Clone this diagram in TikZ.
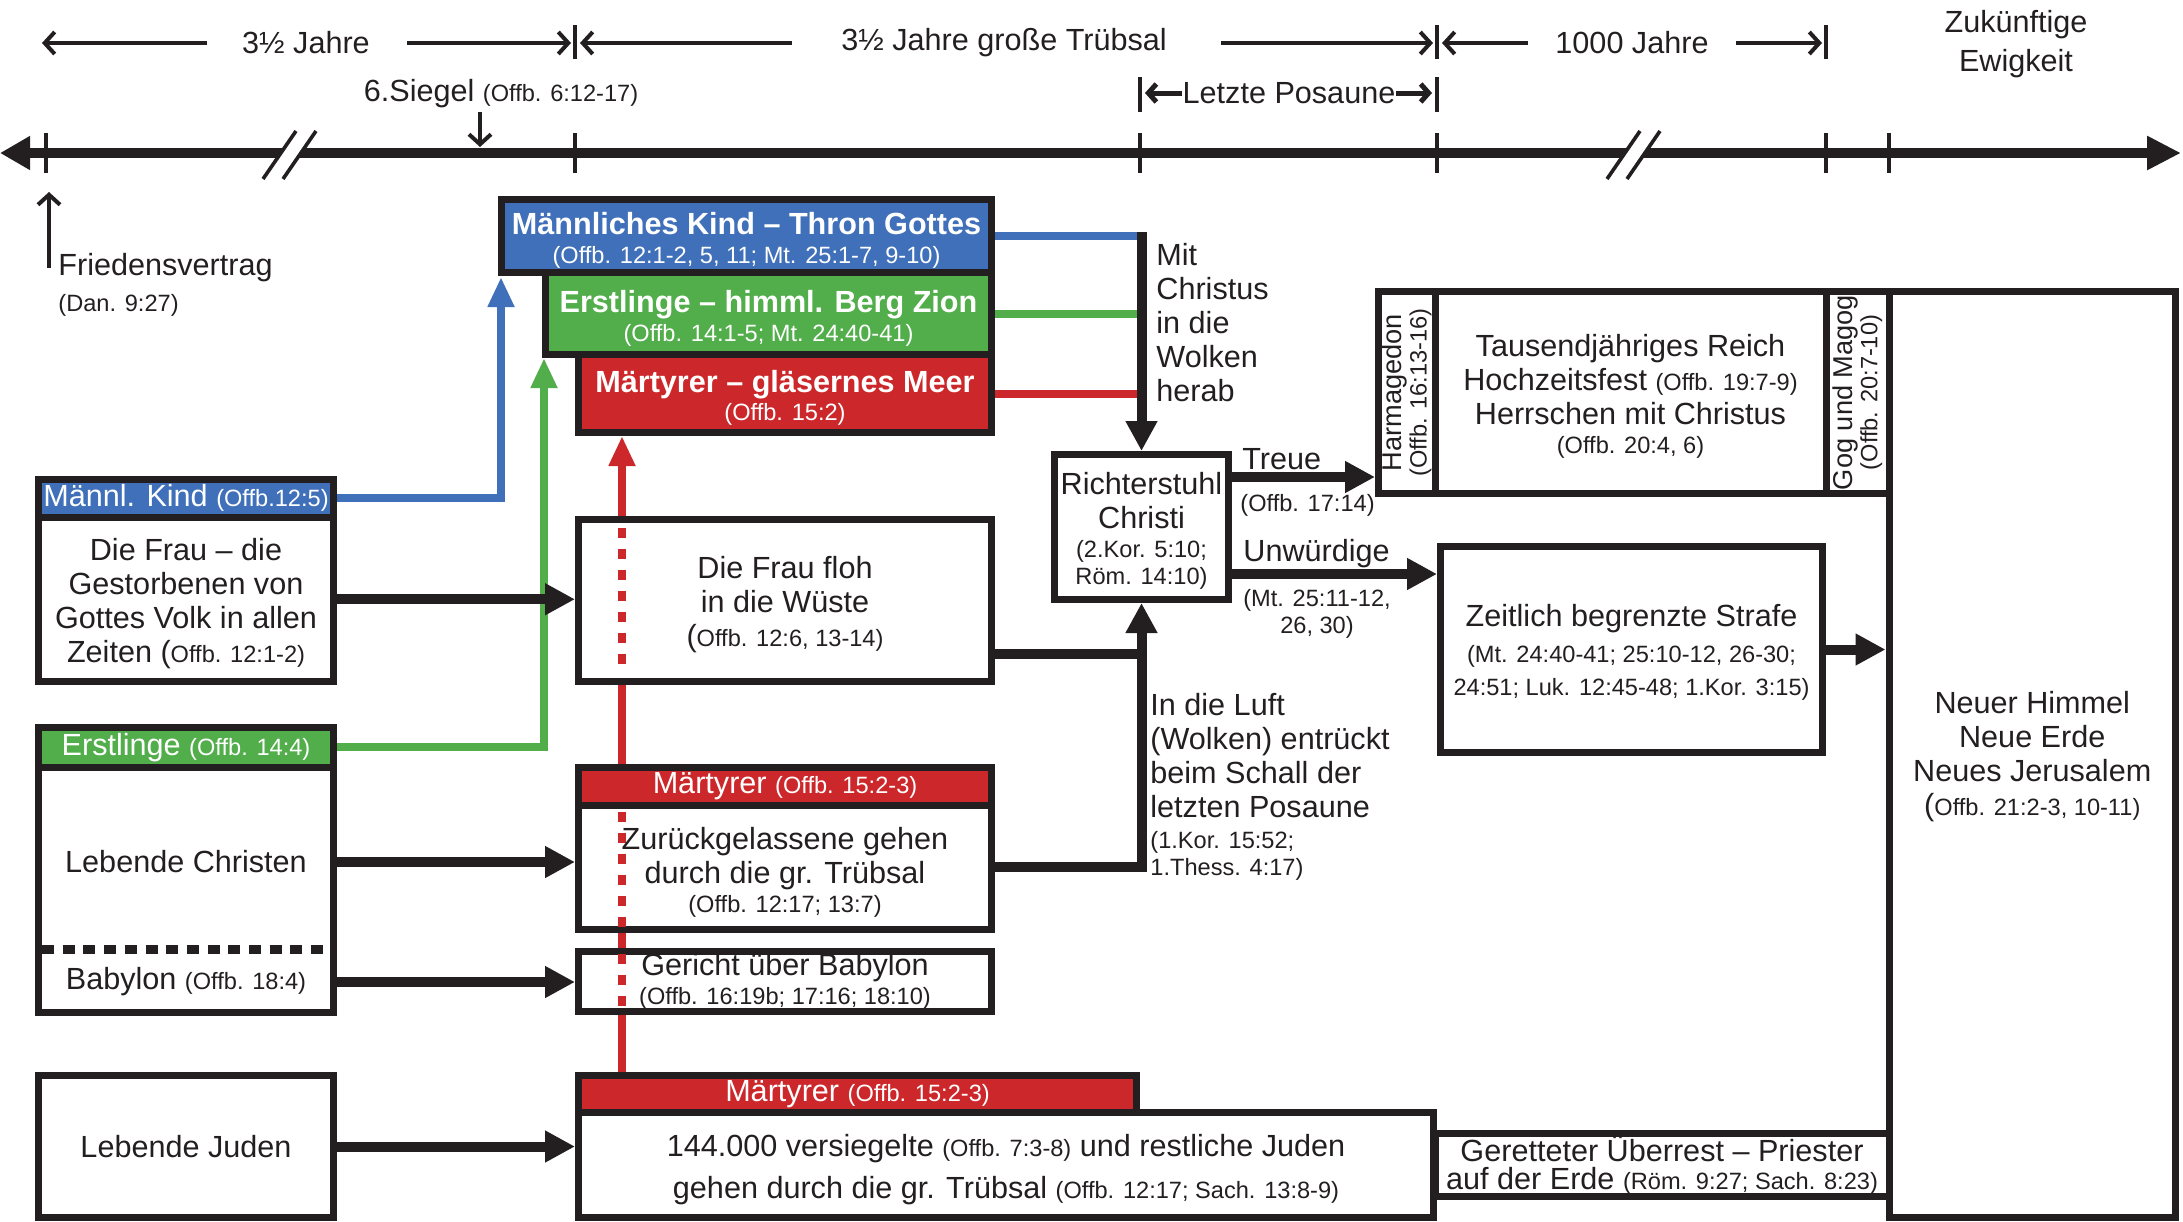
\documentclass[tikz,border=0pt]{standalone}
\usepackage{fontspec}
\setmainfont{Liberation Sans}
\usetikzlibrary{arrows.meta,fit}
\pgfdeclarelayer{bg}
\pgfsetlayers{bg,main}

\definecolor{kblack}{RGB}{35,31,32}
\definecolor{kblue}{RGB}{63,112,185}
\definecolor{kgreen}{RGB}{82,173,75}
\definecolor{kred}{RGB}{204,39,42}

\newcommand{\mtxt}{\fontsize{15.3pt}{17pt}\selectfont}
\newcommand{\rtxt}{\fontsize{11.8pt}{13pt}\selectfont}

\begin{document}
\begin{tikzpicture}[x=0.5pt,y=-0.5pt,
    box/.style={draw=kblack,line width=3.5pt,fill=white,inner sep=0pt},
    lbl/.style={inner sep=0pt,font=\mtxt,text=kblack,align=center},
    wlbl/.style={lbl,text=white},
    blbl/.style={wlbl,font=\mtxt\bfseries},
    conn/.style={kblack,line width=5pt,-{Triangle[length=15pt,width=15pt]}},
    plainconn/.style={kblack,line width=5pt},
    wire/.style={line width=4pt,-{Triangle[length=15pt,width=12.5pt]}},
    wireline/.style={line width=4pt},
    reddash/.style={kred,line width=4pt,dash pattern=on 5pt off 5.5pt},
    sepdots/.style={kblack,line width=4.5pt,dash pattern=on 6pt off 4.35pt},
    dim/.style={kblack,line width=2pt,-{Straight Barb[length=5pt,width=11pt]}},
    smalldim/.style={kblack,line width=2.5pt,-{Straight Barb[length=4pt,width=9pt]}},
    bar/.style={kblack,line width=1.8pt},
    axis/.style={kblack,line width=5pt,
      {Triangle[length=15pt,width=16pt]}-{Triangle[length=17pt,width=16pt]}}]

  \useasboundingbox (0,0) rectangle (2183,1221);

  % time line
  \coordinate (ax-l) at (0,153);
  \coordinate (ax-r) at (2181,153);
  \draw[axis] (ax-l) -- (ax-r);
  \draw[bar] (46,133) -- (46,173);
  \draw[bar] (575,133) -- (575,173);
  \draw[bar] (1140,133) -- (1140,173);
  \draw[bar] (1437,133) -- (1437,173);
  \draw[bar] (1826,133) -- (1826,173);
  \draw[bar] (1889,133) -- (1889,173);
  % breaks
  \fill[white] (263,179) -- (296,131) -- (316,131) -- (283,179) -- cycle;
  \draw[bar] (263,179) -- (296,131);
  \draw[bar] (283,179) -- (316,131);
  \fill[white] (1607,179) -- (1640,131) -- (1660,131) -- (1627,179) -- cycle;
  \draw[bar] (1607,179) -- (1640,131);
  \draw[bar] (1627,179) -- (1660,131);

  % periods
  \node[lbl] (j1) at (306,43) {3½ Jahre};
  \node[lbl] (j2) at (1004,43) {3½ Jahre große Trübsal};
  \node[lbl] (j3) at (1632,43) {1000 Jahre};
  \node[lbl] (ewig) at (2016,44) {Zukünftige\\[2.5pt]Ewigkeit};
  \draw[bar] (575,25) -- (575,59);
  \draw[bar] (1437,25) -- (1437,59);
  \draw[bar] (1826,25) -- (1826,59);
  \coordinate (d1a) at (207,43);
  \coordinate (d1b) at (42,43);
  \coordinate (d1c) at (407,43);
  \coordinate (d1d) at (571,43);
  \coordinate (d2a) at (792,43);
  \coordinate (d2b) at (580,43);
  \coordinate (d2c) at (1221,43);
  \coordinate (d2d) at (1433,43);
  \coordinate (d3a) at (1528,43);
  \coordinate (d3b) at (1442,43);
  \coordinate (d3c) at (1736,43);
  \coordinate (d3d) at (1822,43);
  \draw[dim] (d1a) -- (d1b);
  \draw[dim] (d1c) -- (d1d);
  \draw[dim] (d2a) -- (d2b);
  \draw[dim] (d2c) -- (d2d);
  \draw[dim] (d3a) -- (d3b);
  \draw[dim] (d3c) -- (d3d);

  % letzte Posaune
  \node[lbl] (posaune) at (1289,93) {Letzte Posaune};
  \draw[bar] (1140,77) -- (1140,112);
  \draw[bar] (1437,77) -- (1437,112);
  \coordinate (lp-b) at (1145,93);
  \coordinate (lp-d) at (1432,93);
  \draw[smalldim] (posaune.west) -- (lp-b);
  \draw[smalldim] (posaune.east) -- (lp-d);

  % 6. Siegel and Friedensvertrag
  \node[lbl] (siegel) at (501,94) {6.Siegel {\rtxt (Offb. 6:12-17)}};
  \coordinate (sg-a) at (480,112);
  \coordinate (sg-b) at (480,147);
  \draw[dim] (sg-a) -- (sg-b);
  \node[lbl,anchor=north west,align=left] (frieden) at (58,253)
    {Friedensvertrag\\[1pt]{\rtxt (Dan. 9:27)}};
  \coordinate (fr-a) at (49,268);
  \coordinate (fr-b) at (49,192);
  \draw[dim] (fr-a) -- (fr-b);

  % heaven
  \node[box,fill=kblue,fit={(501.5,199.5) (991.5,272.5)}] (kindtop) {};
  \node[blbl] (kindtop-t) at ([yshift=-2pt]kindtop)
    {Männliches Kind – Thron Gottes\\[-2.5pt]{\rtxt\mdseries (Offb. 12:1-2, 5, 11; Mt. 25:1-7, 9-10)}};
  \node[box,fill=kgreen,fit={(545.5,272.5) (991.5,354.5)}] (greentop) {};
  \node[blbl] (greentop-t) at ([yshift=-2.5pt]greentop)
    {Erstlinge – himml. Berg Zion\\[-2.5pt]{\rtxt\mdseries (Offb. 14:1-5; Mt. 24:40-41)}};
  \node[box,fill=kred,fit={(578.5,354.5) (991.5,432.5)}] (redtop) {};
  \node[blbl] (redtop-t) at ([yshift=-2pt]redtop)
    {Märtyrer – gläsernes Meer\\[-3pt]{\rtxt\mdseries (Offb. 15:2)}};

  % left column
  \node[box,fit={(38.5,517) (333.5,681.5)}] (frau) {};
  \node[lbl] (frau-t) at ([yshift=-2pt]frau)
    {Die Frau – die\\Gestorbenen von\\Gottes Volk in allen\\Zeiten ({\rtxt Offb. 12:1-2)}};
  \node[box,fill=kblue,fit={(38.5,479.5) (333.5,517)}] (kindhdr) {};
  \node[wlbl] (kindhdr-t) at (kindhdr) {Männl. Kind {\rtxt (Offb.12:5)}};
  \node[box,fit={(38.5,727.5) (333.5,1012.5)}] (erstl) {};
  \node[box,fill=kgreen,fit={(38.5,727.5) (333.5,767)}] (erstlhdr) {};
  \node[wlbl] (erstlhdr-t) at (erstlhdr) {Erstlinge {\rtxt (Offb. 14:4)}};
  \node[lbl] (christen) at (186,862) {Lebende Christen};
  \node[lbl] (babylon) at (186,982) {Babylon {\rtxt (Offb. 18:4)}};
  \coordinate (sep-l) at (42,949);
  \coordinate (sep-r) at (331,949);
  \draw[sepdots] (sep-l) -- (sep-r);
  \node[box,fit={(38.5,1075.5) (333.5,1217.5)}] (juden) {};
  \node[lbl] (juden-t) at (juden) {Lebende Juden};

  % middle column
  \node[box,fit={(578.5,519.5) (991.5,681.5)}] (floh) {};
  \node[box,fill=kred,fit={(578.5,767.5) (991.5,805)}] (m2hdr) {};
  \node[wlbl] (m2hdr-t) at (m2hdr) {Märtyrer {\rtxt (Offb. 15:2-3)}};
  \node[box,fit={(578.5,805) (991.5,929.5)}] (zurueck) {};
  \node[box,fit={(578.5,951.5) (991.5,1011.5)}] (gericht) {};
  \node[box,fill=kred,fit={(578.5,1075.5) (1136.5,1112)}] (m3hdr) {};
  \node[wlbl] (m3hdr-t) at (m3hdr) {Märtyrer {\rtxt (Offb. 15:2-3)}};
  \node[box,fit={(578.5,1112) (1433.5,1217.5)}] (juden2) {};
  \node[lbl] (juden2-t) at ([yshift=-2.5pt]juden2)
    {144.000 versiegelte {\rtxt (Offb. 7:3-8)} und restliche Juden\\[4pt]gehen durch die gr. Trübsal {\rtxt (Offb. 12:17; Sach. 13:8-9)}};

  % judgement
  \node[box,fit={(1054.5,454.5) (1228.5,599.5)}] (richter) {};
  \node[lbl] (richter-t) at ([yshift=-2pt]richter)
    {Richterstuhl\\Christi\\[-2.5pt]{\rtxt (2.Kor. 5:10;}\\[-3.5pt]{\rtxt Röm. 14:10)}};

  % right part
  \node[box,fit={(1889,291.5) (2175.5,1217.5)}] (neuer) {};
  \node[lbl] (neuer-t) at ([yshift=-1pt]neuer)
    {Neuer Himmel\\Neue Erde\\Neues Jerusalem\\({\rtxt Offb. 21:2-3, 10-11)}};
  \node[box,fit={(1378.5,291.5) (1435,493.5)}] (harm) {};
  \node[lbl,rotate=90,font=\fontsize{13.6pt}{14pt}\selectfont] (harm-t) at (harm)
    {Harmagedon\\[-1.5pt]{\rtxt (Offb. 16:13-16)}};
  \node[box,fit={(1435,291.5) (1826,493.5)}] (reich) {};
  \node[lbl] (reich-t) at ([yshift=-2pt]reich)
    {Tausendjähriges Reich\\Hochzeitsfest {\rtxt (Offb. 19:7-9)}\\Herrschen mit Christus\\[-2.5pt]{\rtxt (Offb. 20:4, 6)}};
  \node[box,fit={(1826,291.5) (1889,493.5)}] (gog) {};
  \node[lbl,rotate=90,font=\fontsize{13.6pt}{14pt}\selectfont] (gog-t) at (gog)
    {Gog und Magog\\[-1.5pt]{\rtxt (Offb. 20:7-10)}};
  \node[box,fit={(1440.5,546.5) (1822.5,752.5)}] (strafe) {};
  \node[lbl] (strafe-t) at ([yshift=-1.5pt]strafe)
    {Zeitlich begrenzte Strafe\\[1pt]{\rtxt (Mt. 24:40-41; 25:10-12, 26-30;}\\[-0.5pt]{\rtxt 24:51; Luk. 12:45-48; 1.Kor. 3:15)}};
  \node[box,fit={(1435,1133.5) (1889,1196.5)}] (geret) {};
  \node[lbl] (geret-t) at (geret)
    {Geretteter Überrest – Priester\\[-3pt]auf der Erde {\rtxt (Röm. 9:27; Sach. 8:23)}};

  % coloured connectors
  \coordinate (bup) at (501,277);
  \coordinate (gup) at (544,358);
  \coordinate (rup) at (622,436);
  \begin{pgfonlayer}{bg}
    \draw[wire,kblue] (kindhdr.east) -| (bup);
    \draw[wire,kgreen] (erstlhdr.east) -| (gup);
    \draw[wire,kred] (m3hdr.north -| rup) -- (rup);
    \draw[wireline,kblue] (kindtop.east) -- (kindtop.east -| richter.north);
    \draw[wireline,kgreen] (greentop.east) -- (greentop.east -| richter.north);
    \draw[wireline,kred] (redtop.east) -- (redtop.east -| richter.north);
  \end{pgfonlayer}
  \draw[reddash] ([yshift=-6pt]floh.north -| rup) -- ([yshift=6pt]floh.south -| rup);
  \draw[reddash] ([yshift=-5pt]zurueck.north -| rup) -- ([yshift=3pt]zurueck.south -| rup);
  \draw[reddash] ([yshift=-3pt]gericht.north -| rup) -- ([yshift=3pt]gericht.south -| rup);

  % texts over the red dashes
  \node[lbl] (floh-t) at ([yshift=-2pt]floh)
    {Die Frau floh\\in die Wüste\\({\rtxt Offb. 12:6, 13-14)}};
  \node[lbl] (zurueck-t) at ([yshift=-2.5pt]zurueck)
    {Zurückgelassene gehen\\durch die gr. Trübsal\\[-2.5pt]{\rtxt (Offb. 12:17; 13:7)}};
  \node[lbl] (gericht-t) at (gericht)
    {Gericht über Babylon\\[-2.5pt]{\rtxt (Offb. 16:19b; 17:16; 18:10)}};

  % black connectors
  \draw[conn] (frau.east) -- (frau.east -| floh.west);
  \draw[conn] (christen -| erstl.east) -- (christen -| zurueck.west);
  \draw[conn] (babylon -| erstl.east) -- (babylon -| gericht.west);
  \draw[conn] (juden.east) -- (juden.east -| juden2.west);
  \coordinate (floh-out) at (991.5,654);
  \draw[plainconn] (floh-out) -- (floh-out -| richter.south);
  \draw[conn] (zurueck.east) -| (richter.south);
  \coordinate (mit-top) at (1141.5,232);
  \draw[conn] (mit-top) -- (richter.north);
  \coordinate (treue-out) at (1228.5,477);
  \draw[conn] (treue-out) -- (treue-out -| harm.west);
  \coordinate (unw-out) at (1228.5,574);
  \draw[conn] (unw-out) -- (unw-out -| strafe.west);
  \draw[conn] (strafe.east) -- (strafe.east -| neuer.west);

  % labels
  \node[lbl,anchor=north west,align=left] (mit) at (1156,243)
    {Mit\\Christus\\in die\\Wolken\\herab};
  \node[lbl,anchor=north west,align=left] (luft) at (1150,693)
    {In die Luft\\(Wolken) entrückt\\beim Schall der\\letzten Posaune\\[-1.5pt]{\rtxt (1.Kor. 15:52;}\\[-3.5pt]{\rtxt 1.Thess. 4:17)}};
  \node[lbl,anchor=west] (treue) at (1242,459) {Treue};
  \node[lbl,anchor=west,font=\rtxt] (treueref) at (1240,505) {(Offb. 17:14)};
  \node[lbl,anchor=west] (unw) at (1243,554) {Unwürdige};
  \node[lbl,font=\rtxt] (unwref) at (1317,614) {(Mt. 25:11-12,\\[0.5pt]26, 30)};
\end{tikzpicture}
\end{document}
